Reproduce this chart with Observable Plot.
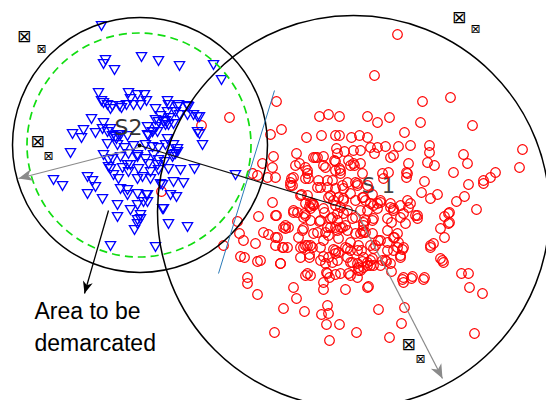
<!DOCTYPE html>
<html><head><meta charset="utf-8">
<script src="https://cdn.jsdelivr.net/npm/d3@7"></script>
<script src="https://cdn.jsdelivr.net/npm/@observablehq/plot@0.6"></script>
<style>html,body{margin:0;padding:0;background:#fff} svg{display:block}</style>
</head><body><div id="chart"></div>
<script>
// Class S2 samples (blue, down-pointing triangles)
const blue = [
[101,24],[105,58],[103,62],[114,68],[141,55],[158,59],[179,64],[213,63],[221,78],
[98,91],[101,99],[103,101],[107,103],[128,91],[137,93],[144,93],[130,97],
[112,104],[119,104],[126,103],[133,103],[140,103],[146,99],[110,107],[121,106],
[155,107],[167,99],[168,103],[177,105],[187,104],[193,113],[199,115],[179,113],[187,113],
[167,110],[160,114],[169,116],[91,117],[103,121],[83,128],[72,132],[81,136],
[95,131],[107,130],[112,134],[120,133],[116,137],[127,134],[102,127],
[147,125],[152,130],[148,134],[158,120],[165,119],[168,123],[156,125],
[197,130],[202,143],[199,132],[173,122],[157,130],[167,137],[188,105],[197,115],[178,103],[175,110],
[107,142],[117,143],[124,146],[133,144],[145,143],[152,145],[158,146],[165,143],
[173,143],[177,147],[175,152],[172,155],[70,151],
[103,153],[112,157],[120,155],[128,152],[137,153],[145,157],[153,153],[158,158],[164,160],
[108,165],[122,166],[130,163],[138,167],[148,162],[158,168],[168,167],[180,168],[194,167],
[113,173],[118,177],[128,170],[142,175],[150,177],[53,178],[62,184],
[87,175],[92,179],[95,185],[87,192],[102,197],[117,203],[127,188],[137,192],[146,193],
[160,182],[173,180],[183,181],[176,195],[170,193],[130,208],[137,203],[147,200],[163,207],
[117,215],[140,217],[137,222],[134,228],[168,222],[187,225],[110,244],[155,245],[235,173],[162,207],
[110,127],[115,135],[118,133],[147,133],[152,130],[155,118],[163,120],[165,123],[177,150],[173,153],
[137,155],[127,163],[150,170],[157,163],[162,183],[147,193],[143,200],[140,213],[137,218],[127,193],
[120,187],[137,177],[108,158],[110,167]
];
// Class S1 samples (red circles)
const red = [
[397,34],[374,75],[422,101],[450,97],[472,125],[420,122],[404,132],
[319,116],[328,114],[339,116],[367,116],[377,122],[389,117],
[281,129],[306,137],[321,135],[335,135],[339,135],[351,137],[359,135],[367,137],
[370,147],[377,147],[385,146],[398,146],[410,145],[429,145],[429,152],
[522,149],[519,167],[463,154],[467,163],
[296,153],[313,157],[317,157],[336,148],[337,153],[353,150],[360,150],
[374,153],[390,157],[393,155],[273,156],[272,167],
[299,163],[323,165],[335,161],[340,170],[348,160],[353,163],[360,163],
[408,163],[406,172],[406,177],[427,162],[434,165],
[453,172],[424,181],[483,180],[490,177],[495,172],[483,183],[468,184],
[291,178],[307,173],[308,178],[318,180],[320,187],[332,180],
[340,173],[347,182],[357,183],[362,173],[383,178],[388,172],
[275,177],[272,202],[292,185],[300,195],[317,187],
[310,202],[328,197],[338,197],[350,193],[355,200],
[363,197],[372,194],[380,200],[370,203],[377,203],
[393,210],[407,200],[408,207],[417,215],[421,192],[430,198],[437,194],
[456,201],[464,196],[476,209],[444,216],[449,212],[449,222],[440,228],[444,237],
[275,215],[293,212],[304,213],[312,203],[324,212],[332,217],[340,207],[343,213],
[310,220],[320,220],[337,220],[342,227],[302,230],[285,228],[277,237],[282,247],
[307,245],[312,247],[320,247],[328,235],[337,230],[347,230],[355,233],[362,230],[365,220],
[373,218],[372,233],[378,240],[387,230],[394,237],[397,247],[402,249],[400,255],
[387,242],[370,245],[363,257],[335,250],[345,247],[350,250],[358,245],
[328,257],[337,260],[350,262],[357,263],[367,265],[358,270],[370,265],[382,260],[390,263],
[430,245],[433,243],[442,260],[300,257],[309,257],[280,263],
[307,273],[326,272],[329,277],[340,273],[350,275],[403,277],[412,276],[424,277],[461,273],[468,273],[333,200],
[276,101],[229,117],[201,125],[270,134],[262,163],[252,173],[257,175],[267,177],[161,191],
[305,167],[293,177],[290,185],[301,194],[327,187],[335,188],[343,188],[357,185],[367,185],
[313,204],[343,200],[362,197],[344,151],[325,167],[339,168],[354,165],[315,157],[323,156],[334,160],
[258,216],[276,215],[237,221],[239,233],[243,240],[223,245],[263,232],[268,234],[275,237],[255,243],
[275,245],[283,247],[240,256],[244,257],[257,261],[260,260],[280,263],[247,277],[247,283],[257,294],
[283,308],[293,287],[296,298],[304,311],[285,225],[288,227],[297,212],[305,215],[309,206],[313,205],
[303,228],[317,232],[325,232],[319,221],[327,227],[335,227],[340,227],[345,225],[330,218],[337,213],
[352,218],[360,233],[363,225],[300,247],[305,245],[310,245],[333,249],[335,253],[347,248],[361,250],
[309,254],[323,256],[325,263],[332,262],[352,262],[362,261],[360,270],[357,277],[348,273],[335,274],
[327,273],[305,275],[310,275],[323,282],[323,289],[345,289],[367,287],[327,305],[321,314],[328,313],
[326,324],[339,324],[356,332],[329,340],[274,332],
[448,213],[448,223],[430,247],[440,258],[443,262],[469,287],[482,293],[474,333],[423,279],[411,278],
[402,279],[403,282],[404,307],[378,309],[401,323],[389,337],[368,286],[385,260],[391,271],[400,257],
[393,250],[403,247],[398,242],[397,233],[380,240],[375,245],[372,258],[367,262],[363,267],[373,265],
[386,261],[403,213],[391,222],[405,223],[415,215],[417,218],[373,205],[390,207],[400,205],[410,203],[363,232],
[295,165],[307,170],[335,170],[350,165],[382,173],[407,173],[290,182],[305,178],[327,180],[342,185],
[355,182],[307,195],[330,195],[343,198],[365,200],[380,202],[390,203],[293,210],[305,203],[310,208],
[323,208],[335,205],[347,210],[360,210],[367,210],[377,208],[393,208],[283,227],[303,217],[330,227],
[355,217],[363,222],[372,220],[387,218],[400,217],[298,237],[313,233],[323,240],[338,238],[350,242],
[365,232],[393,237],[287,247],[303,247],[338,252],[357,250],[373,248],[387,250],[320,260],[347,257],
[370,260],[380,265],[358,267]
];
// Region circles (center x, center y, radius in data units)
const regionCx = [139.5, 353];
const regionCy = [144.5, 211];
const regionR  = [127.5, 196];
const boundaryCx = [138.5], boundaryCy = [144.5], boundaryR = [112];
// Lines / arrows
const centerLink = [{x1:139,y1:145,x2:356,y2:211}];
const grayArrows = [{x1:138,y1:147,x2:18,y2:178},{x1:356,y1:211,x2:442,y2:378}];
const blackArrows = [{x1:108,y1:210,x2:84,y2:293}];
const splitLine = [{x1:274,y1:90,x2:218,y2:273}];
const centerDot = [{x:139,y:145}];
// Text
const centerLabels = [{x:128,y:127,text:"S2"},{x:378,y:186,text:"S 1"}];
const note = [{x:34,y:318,text:"Area to be"},{x:34,y:350,text:"demarcated"}];
const bigGlyphs = [{x:23.5,y:36},{x:37,y:141},{x:458.5,y:17},{x:408,y:344}];
const smallGlyphs = [{x:41,y:49},{x:48,y:156},{x:475,y:29},{x:420,y:359}];

const regions = regionCx.map((cx,i)=>({cx, cy: regionCy[i], r: regionR[i]}));
const boundary = boundaryCx.map((cx,i)=>({cx, cy: boundaryCy[i], r: boundaryR[i]}));
const angle = d => Math.atan2(d.x2 - d.x1, -(d.y2 - d.y1)) * 180 / Math.PI;
const arrowHead = {draw(ctx, size){ const r = Math.sqrt(size/Math.PI);
  ctx.moveTo(0,0); ctx.lineTo(0.42*r, r); ctx.lineTo(0, 0.72*r); ctx.lineTo(-0.42*r, r); ctx.closePath(); }};

const W = 546, H = 400;
const chart = Plot.plot({
  width: W, height: H, margin: 0,
  x: {domain:[0,W], range:[0,W], axis:null},
  y: {domain:[0,H], range:[0,H], axis:null},
  r: {type:"identity"},
  style: {background:"#fff"},
  marks: [
    Plot.text(centerLabels.slice(1), {x:"x", y:"y", text:"text", fontSize:21, fill:"#444", fontFamily:"DejaVu Sans"}),
    Plot.dot(red, {x:d=>d[0], y:d=>d[1], r:4.8, stroke:"#ff0000", strokeWidth:1.2, fill:"none"}),
    Plot.dot(blue, {x:d=>d[0], y:d=>d[1], symbol:"triangle", rotate:180, r:3.8, stroke:"#0000ff", strokeWidth:1.3, fill:"none"}),
    Plot.dot(regions, {x:"cx", y:"cy", r:"r", stroke:"#000", strokeWidth:1.5, fill:"none"}),
    Plot.dot(boundary, {x:"cx", y:"cy", r:"r", stroke:"#11dd11", strokeWidth:1.7, strokeDasharray:"8,5", fill:"none"}),
    Plot.link(splitLine, {x1:"x1", y1:"y1", x2:"x2", y2:"y2", stroke:"#2a7ab8", strokeWidth:1}),
    Plot.link(centerLink, {x1:"x1", y1:"y1", x2:"x2", y2:"y2", stroke:"#111", strokeWidth:1.2}),
    Plot.link(grayArrows, {x1:"x1", y1:"y1", x2:"x2", y2:"y2", stroke:"#8a8a8a", strokeWidth:1.2}),
    Plot.dot(grayArrows, {x:"x2", y:"y2", symbol:arrowHead, r:14, rotate:angle, fill:"#8a8a8a", stroke:"none"}),
    Plot.link(blackArrows, {x1:"x1", y1:"y1", x2:"x2", y2:"y2", stroke:"#000", strokeWidth:1.3}),
    Plot.dot(blackArrows, {x:"x2", y:"y2", symbol:arrowHead, r:12, rotate:angle, fill:"#000", stroke:"none"}),
    Plot.dot(centerDot, {x:"x", y:"y", r:2, fill:"#000"}),
    Plot.text(centerLabels.slice(0,1), {x:"x", y:"y", text:"text", fontSize:22, fill:"#333", fontFamily:"DejaVu Sans"}),
    Plot.text(note, {x:"x", y:"y", text:"text", fontSize:23, fill:"#000", textAnchor:"start", lineAnchor:"bottom", fontFamily:"Liberation Sans, Arial, sans-serif"}),
    Plot.text(bigGlyphs, {x:"x", y:"y", text:()=>"\u22A0", fontSize:17, fill:"#000", fontFamily:"DejaVu Sans"}),
    Plot.text(smallGlyphs, {x:"x", y:"y", text:()=>"\u22A0", fontSize:12, fill:"#000", fontFamily:"DejaVu Sans"})
  ]
});
document.getElementById("chart").appendChild(chart);
</script>
</body></html>
